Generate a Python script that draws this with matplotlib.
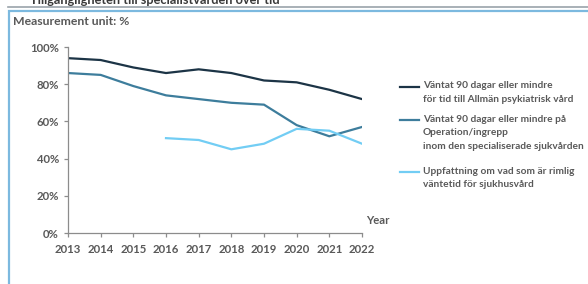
import matplotlib.pyplot as plt
from matplotlib.lines import Line2D
from matplotlib.patches import Rectangle

plt.rcParams['font.family'] = ['Lato', 'DejaVu Sans']
plt.rcParams['font.weight'] = 'bold'

years = [2013, 2014, 2015, 2016, 2017, 2018, 2019, 2020, 2021, 2022]
psyk = [94, 93, 89, 86, 88, 86, 82, 81, 77, 72]
operation = [86, 85, 79, 74, 72, 70, 69, 58, 52, 57]
years_uppf = [2016, 2017, 2018, 2019, 2020, 2021, 2022]
uppfattning = [51, 50, 45, 48, 56, 55, 48]

labels = ['Väntat 90 dagar eller mindre\nför tid till Allmän psykiatrisk vård',
          'Väntat 90 dagar eller mindre på\nOperation/ingrepp\ninom den specialiserade sjukvården',
          'Uppfattning om vad som är rimlig\nväntetid för sjukhusvård']
colors = ['#1c3446', '#3d7d9c', '#72cdf4']
text_col = '#595959'

W, H = 588, 284
fig = plt.figure(figsize=(W / 100, H / 100), dpi=100)

def fx(px):
    return px / W

def fy(py):
    return 1 - py / H

# frame around the chart (title is cut off at the top, as in the screenshot)
fig.add_artist(Line2D([fx(8), 1], [fy(6.5), fy(6.5)], color='#9aa3aa', lw=1.2))
fig.add_artist(Rectangle((fx(8.5), fy(300)), 1.2, fy(11) - fy(300), fill=False,
                         edgecolor='#7cb9df', lw=1.6))
fig.text(fx(30), fy(3.5), 'Tillgängligheten till specialistvården över tid',
         fontsize=9.2, color='#3a3a3a', va='baseline')
fig.text(fx(13), fy(25), 'Measurement unit: %', fontsize=8.8, color=text_col, va='baseline')

ax = fig.add_axes([fx(68), fy(233), fx(362) - fx(68), fy(47) - fy(233)])
ax.plot(years, psyk, color=colors[0], lw=1.6)
ax.plot(years, operation, color=colors[1], lw=1.6)
ax.plot(years_uppf, uppfattning, color=colors[2], lw=1.6)

ax.set_xlim(2013, 2022)
ax.set_ylim(0, 100)
ax.set_xticks(years)
ax.set_yticks([0, 20, 40, 60, 80, 100])
ax.set_yticklabels([f'{v}%' for v in [0, 20, 40, 60, 80, 100]])
for s in ['top', 'right']:
    ax.spines[s].set_visible(False)
for s in ['left', 'bottom']:
    ax.spines[s].set_color('#8c8c8c')
    ax.spines[s].set_linewidth(0.9)
ax.tick_params(axis='both', colors='#8c8c8c', labelcolor=text_col, labelsize=8.2,
               length=3, width=0.9)
ax.tick_params(axis='x', pad=5)
ax.text(1.013, 0.04, 'Year', transform=ax.transAxes, fontsize=8.2, color=text_col,
        ha='left', va='bottom')

# legend drawn by hand: handle aligned with first line of each label
leg_y = [87, 120, 172]
for lab, col, y in zip(labels, colors, leg_y):
    fig.add_artist(Line2D([fx(400), fx(419)], [fy(y), fy(y)], color=col, lw=1.6))
    fig.text(fx(423), fy(y - 5.5), lab, fontsize=7.3, color=text_col, va='top',
             linespacing=1.65)

fig.savefig('out.png', dpi=100)
